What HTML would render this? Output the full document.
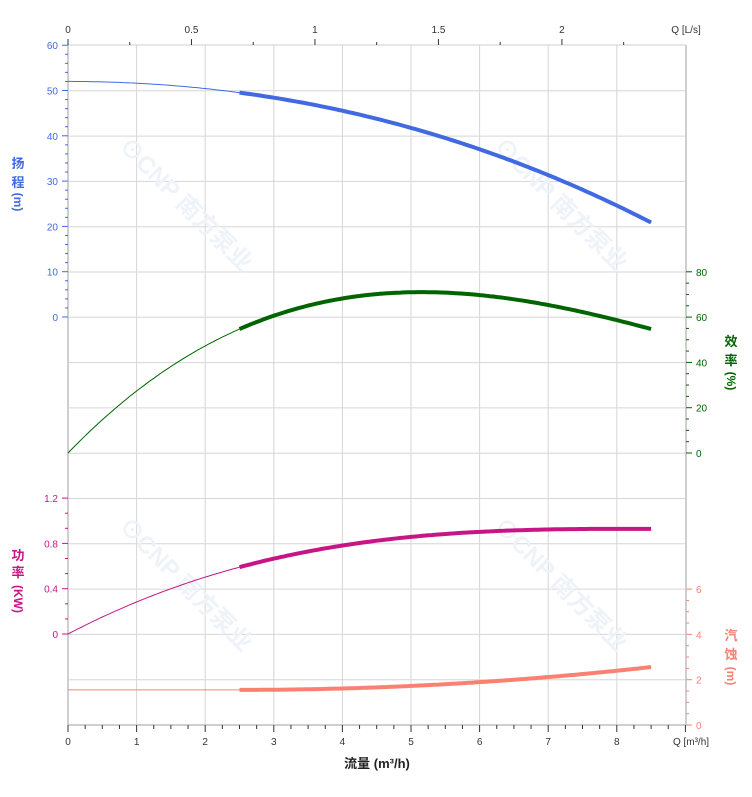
<!DOCTYPE html>
<html><head><meta charset="utf-8"><style>
html,body{margin:0;padding:0;background:#fff;}
svg{display:block;font-family:"Liberation Sans","Noto Sans CJK SC",sans-serif;}
</style></head><body>
<svg id="s" width="752" height="797" xmlns="http://www.w3.org/2000/svg"></svg>
<script>
const s=document.getElementById('s');let h='';
const X0=68,PX=68.6,U=45.3;
const X=q=>X0+q*PX;
const L=(x1,y1,x2,y2,c,w)=>h+=`<line x1="${x1}" y1="${y1}" x2="${x2}" y2="${y2}" stroke="${c}" stroke-width="${w}"/>`;
const T=(x,y,t,c,sz,a,extra)=>h+=`<text x="${x}" y="${y}" fill="${c}" font-size="${sz}" text-anchor="${a||'middle'}" ${extra||''}>${t}</text>`;
// grid
for(let i=1;i<9;i++)L(X(i),45,X(i),724,'#d6d6d6',1);
for(let i=0;i<15;i++){const y=45+i*U*1.0+0.5;if(i>0)L(68,y,686,y,'#d6d6d6',1);}
L(686,45,686,725,'#cfcfcf',2);L(68,45,686,45,'#cfcfcf',1);
L(68,45,68,725,'#cfcfcf',2);L(68,725,686,725,'#cfcfcf',2);
// watermark
[[180,210],[555,210],[180,590],[555,590]].forEach(([x,y])=>h+=`<text x="${x}" y="${y}" fill="#eef3f9" font-size="24" font-weight="bold" text-anchor="middle" transform="rotate(45 ${x} ${y})">⊙CNP 南方泵业</text>`);
// bottom axis
for(let i=0;i<=36;i++){const x=X(i/4);L(x,725,x,i%4==0?732:729,'#333',1);}
for(let i=0;i<=8;i++)T(X(i),745,i,'#333',10);
T(691,745,'Q [m³/h]','#333',10);
T(377,768,'流量 (m³/h)','#222',13,'middle','font-weight="bold"');
// top axis
for(let i=0;i<=9;i++){const x=X(i*0.25*3.6);if(x<=687)L(x,45,x,i%2==0?39:42,'#333',1);}
['0','0.5','1','1.5','2'].forEach((t,i)=>T(X(i*0.5*3.6),33,t,'#333',10));
T(686,33,'Q [L/s]','#333',10);
// left head axis
const YH=v=>317-v/10*U;
for(let v=0;v<=60;v+=2){L(v%10==0?62:65,YH(v),68,YH(v),'#4169E1',1);}
for(let v=0;v<=60;v+=10)T(58,YH(v)+4,v,'#4169E1',10,'end');
['扬','程'].forEach((c,i)=>T(18,168+i*19,c,'#4169E1',13,'middle','font-weight="bold"'));
T(18,206,'(m)','#4169E1',12,'middle','font-weight="bold" transform="rotate(90 18 202)"');
// efficiency right
const YE=v=>453-v/20*U;
for(let v=0;v<=80;v+=5)L(686,YE(v),v%20==0?692:689,YE(v),'#006400',1);
for(let v=0;v<=80;v+=20)T(696,YE(v)+4,v,'#006400',10,'start');
['效','率'].forEach((c,i)=>T(731,346+i*19,c,'#006400',13,'middle','font-weight="bold"'));
T(731,385,'(%)','#006400',12,'middle','font-weight="bold" transform="rotate(90 731 381)"');
// power left
const YP=v=>634-v/0.4*U;
for(let i=0;i<=9;i++){const v=i*0.4/3;L(i%3==0?62:65,YP(v),68,YP(v),'#C71585',1);}
['0','0.4','0.8','1.2'].forEach((t,i)=>T(58,YP(i*0.4)+4,t,'#C71585',10,'end'));
['功','率'].forEach((c,i)=>T(18,560+i*17,c,'#C71585',13,'middle','font-weight="bold"'));
T(18,603,'(KW)','#C71585',12,'middle','font-weight="bold" transform="rotate(90 18 599)"');
// npsh right
const YN=v=>725-v/2*U;
for(let i=0;i<=12;i++){const v=i*0.5;L(686,YN(v),i%4==0?692:689,YN(v),'#FA8072',1);}
[0,2,4,6].forEach(v=>T(696,YN(v)+4,v,'#FA8072',10,'start'));
['汽','蚀'].forEach((c,i)=>T(731,640+i*19,c,'#FA8072',13,'middle','font-weight="bold"'));
T(731,680,'(m)','#FA8072',12,'middle','font-weight="bold" transform="rotate(90 731 676)"');
// curves
const path=(f,Y,a,b)=>{let d='';for(let q=a;q<=b+1e-9;q+=0.05)d+=(d?'L':'M')+X(q).toFixed(1)+','+Y(f(q)).toFixed(1);return d;};
const curve=(f,Y,c)=>{h+=`<path d="${path(f,Y,0,2.5)}" fill="none" stroke="${c}" stroke-width="1"/>`;h+=`<path d="${path(f,Y,2.5,8.5)}" fill="none" stroke="${c}" stroke-width="4"/>`;};
curve(q=>52-0.38*q*q-0.006*q*q*q,YH,'#4169E1');
curve(q=>31.36*q-4.149*q*q+0.1432*q*q*q,YE,'#006400');
curve(q=>0.3174*q-0.03588*q*q+0.001339*q*q*q,YP,'#C71585');
curve(q=>q<2.5?1.55:1.55+0.028*(q-2.5)*(q-2.5),YN,'#FA8072');
s.innerHTML=h;
</script>
</body></html>
